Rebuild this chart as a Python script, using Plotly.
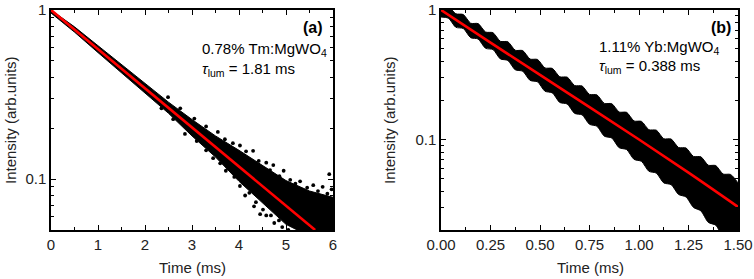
import plotly.graph_objects as go
import math

# ---------------- data: panel (a) 0.78% Tm:MgWO4 ----------------
ta = [0.0, 0.5, 1.0, 1.5, 2.0, 2.5, 3.0, 3.5, 4.0, 4.5, 5.0, 5.5, 6.0]
a_upper = [1.0, 0.795, 0.615, 0.475, 0.365, 0.285, 0.225, 0.18, 0.148, 0.12, 0.098, 0.085, 0.078]
a_lower = [0.96, 0.74, 0.56, 0.425, 0.32, 0.245, 0.18, 0.135, 0.097, 0.072, 0.054, 0.046, 0.046]
a_dots_t = [2.49, 2.75, 3.05, 3.3, 3.55, 3.7, 3.87, 4.02, 4.15, 4.3, 4.42, 4.58, 4.66, 4.73,
            4.86, 4.95, 5.09, 5.2, 5.3, 5.45, 5.58, 5.68, 5.78, 5.88, 5.92, 5.97,
            2.35, 2.6, 2.85, 3.1, 3.3, 3.45, 3.6, 3.72, 3.9, 4.02, 4.13, 4.22, 4.32, 4.36,
            4.45, 4.51, 4.58, 4.68, 4.75, 4.85, 4.92, 5.05]
a_dots_v = [0.305, 0.262, 0.228, 0.205, 0.19, 0.172, 0.163, 0.158, 0.146, 0.147, 0.128, 0.125,
            0.113, 0.121, 0.104, 0.112, 0.099, 0.094, 0.097, 0.089, 0.092, 0.085, 0.09, 0.082,
            0.107, 0.087,
            0.262, 0.226, 0.185, 0.168, 0.148, 0.133, 0.124, 0.112, 0.103, 0.091, 0.08, 0.083,
            0.069, 0.073, 0.062, 0.066, 0.061, 0.061, 0.055, 0.057, 0.052, 0.05]
a_fit_t = [0.0, 5.62]
a_fit_v = [1.0, 0.05]

# ---------------- data: panel (b) 1.11% Yb:MgWO4 ----------------
tb = [0.0, 0.0375, 0.075, 0.1125, 0.15, 0.1875, 0.225, 0.2625, 0.3, 0.3375, 0.375, 0.4125,
      0.45, 0.4875, 0.525, 0.5625, 0.6, 0.6375, 0.675, 0.7125, 0.75, 0.7875, 0.825, 0.8625,
      0.9, 0.9375, 0.975, 1.0125, 1.05, 1.0875, 1.125, 1.1625, 1.2, 1.2375, 1.275, 1.3125,
      1.35, 1.3875, 1.425, 1.4625, 1.5]
b_upper = [1.05, 1.064, 0.935, 0.923, 0.79, 0.785, 0.676, 0.668, 0.573, 0.569, 0.489, 0.486,
           0.418, 0.415, 0.357, 0.354, 0.305, 0.303, 0.261, 0.259, 0.223, 0.221, 0.19, 0.189,
           0.163, 0.162, 0.139, 0.138, 0.119, 0.118, 0.1014, 0.1007, 0.0867, 0.086, 0.074,
           0.0735, 0.0633, 0.0629, 0.0541, 0.0537, 0.0462]
b_lower = [0.883, 0.865, 0.735, 0.72, 0.611, 0.597, 0.506, 0.495, 0.419, 0.408, 0.345, 0.337,
           0.286, 0.279, 0.236, 0.229, 0.193, 0.188, 0.159, 0.155, 0.131, 0.1266, 0.106, 0.1027,
           0.0863, 0.0836, 0.0702, 0.0678, 0.0568, 0.055, 0.0462, 0.0448, 0.0376, 0.036, 0.0299,
           0.0281, 0.0229, 0.0218, 0.018, 0.019, 0.018]
b_fit_t = [0.0, 0.25, 0.5, 0.75, 1.0, 1.25, 1.5]
b_fit_v = [1.0, 0.56, 0.315, 0.178, 0.100, 0.0555, 0.0302]

xa_ticks = [0, 1, 2, 3, 4, 5, 6]
xb_ticks = [0.0, 0.25, 0.5, 0.75, 1.0, 1.25, 1.5]
xb_labels = ["0.00", "0.25", "0.50", "0.75", "1.00", "1.25", "1.50"]
y_ticks = [0.1, 1]
y_labels = ["0.1", "1"]

FONT = "Liberation Sans, Arial, sans-serif"
W, H = 754, 279

fig = go.Figure()

# panel a
fig.add_trace(go.Scatter(x=ta, y=a_lower, mode="lines", line=dict(color="black", width=1),
                         xaxis="x", yaxis="y", showlegend=False, hoverinfo="skip"))
fig.add_trace(go.Scatter(x=ta, y=a_upper, mode="lines", line=dict(color="black", width=1),
                         fill="tonexty", fillcolor="black", xaxis="x", yaxis="y", showlegend=False,
                         hoverinfo="skip"))
fig.add_trace(go.Scatter(x=a_dots_t, y=a_dots_v, mode="markers",
                         marker=dict(color="black", size=3.8), xaxis="x", yaxis="y", showlegend=False,
                         hoverinfo="skip"))
fig.add_trace(go.Scatter(x=a_fit_t, y=a_fit_v, mode="lines", line=dict(color="#ff0000", width=2.6),
                         xaxis="x", yaxis="y", showlegend=False, hoverinfo="skip"))

# panel b
fig.add_trace(go.Scatter(x=tb, y=b_lower, mode="lines",
                         line=dict(color="black", width=1, shape="spline", smoothing=0.7),
                         xaxis="x2", yaxis="y2", showlegend=False, hoverinfo="skip"))
fig.add_trace(go.Scatter(x=tb, y=b_upper, mode="lines",
                         line=dict(color="black", width=1, shape="spline", smoothing=0.7),
                         fill="tonexty", fillcolor="black", xaxis="x2", yaxis="y2", showlegend=False,
                         hoverinfo="skip"))
fig.add_trace(go.Scatter(x=b_fit_t, y=b_fit_v, mode="lines", line=dict(color="#ff0000", width=2.6, shape="spline"),
                         xaxis="x2", yaxis="y2", showlegend=False, hoverinfo="skip"))

axis_common = dict(showline=True, linecolor="black", linewidth=1.5, mirror="allticks",
                   ticks="inside", ticklen=5, tickwidth=1.2, tickcolor="black",
                   showgrid=False, zeroline=False, automargin=False,
                   tickfont=dict(family=FONT, size=15, color="#222"))

ya_minor = [0.05, 0.06, 0.07, 0.08, 0.09, 0.2, 0.3, 0.4, 0.5, 0.6, 0.7, 0.8, 0.9]
yb_minor = [0.02, 0.03, 0.04, 0.05, 0.06, 0.07, 0.08, 0.09, 0.2, 0.3, 0.4, 0.5, 0.6, 0.7, 0.8, 0.9]

dom_y = [1 - 230 / H, 1 - 10 / H]

fig.update_layout(
    width=W, height=H, margin=dict(l=0, r=0, t=0, b=0, autoexpand=False),
    paper_bgcolor="white", plot_bgcolor="white",
    xaxis=dict(domain=[51 / W, 333 / W], range=[0, 6], tickvals=xa_ticks,
               minor=dict(ticks="inside", ticklen=3, tickcolor="black", dtick=0.5, tick0=0),
               anchor="y", **axis_common),
    yaxis=dict(domain=dom_y, type="log", range=[math.log10(0.05), 0], tickvals=y_ticks, ticktext=y_labels,
               minor=dict(ticks="inside", ticklen=3, tickcolor="black", tickvals=ya_minor),
               anchor="x", **axis_common),
    xaxis2=dict(domain=[441 / W, 738 / W], range=[0, 1.5], tickvals=xb_ticks, ticktext=xb_labels,
                minor=dict(ticks="inside", ticklen=3, tickcolor="black", dtick=0.125, tick0=0),
                anchor="y2", **axis_common),
    yaxis2=dict(domain=dom_y, type="log", range=[math.log10(0.02), 0], tickvals=y_ticks, ticktext=y_labels,
                minor=dict(ticks="inside", ticklen=3, tickcolor="black", tickvals=yb_minor),
                anchor="x2", **axis_common),
)

def ann(x, y, text, size=15, xanchor="left", angle=0, color="black"):
    fig.add_annotation(xref="paper", yref="paper", x=x / W, y=1 - y / H, text=text,
                       showarrow=False, xanchor=xanchor, yanchor="middle", textangle=angle,
                       font=dict(family=FONT, size=size, color=color))

# axis titles
ann(192, 267, "Time (ms)", xanchor="center", color="#222")
ann(590, 267, "Time (ms)", xanchor="center", color="#222")
ann(10, 120, "Intensity (arb.units)", xanchor="center", angle=-90, color="#222")
ann(389, 120, "Intensity (arb.units)", xanchor="center", angle=-90, color="#222")

# panel labels
ann(325, 27, "<b>(a)</b>", size=16, xanchor="right")
ann(200, 49, "0.78% Tm:MgWO<sub>4</sub>")
ann(200, 69, "<i>τ</i><sub>lum</sub> = 1.81 ms")
ann(733, 27, "<b>(b)</b>", size=16, xanchor="right")
ann(597, 47, "1.11% Yb:MgWO<sub>4</sub>")
ann(597, 67, "<i>τ</i><sub>lum</sub> = 0.388 ms")

fig.write_html("out.html", config={"displayModeBar": False},
               post_script="document.body.style.margin='0';document.body.style.padding='0';")
